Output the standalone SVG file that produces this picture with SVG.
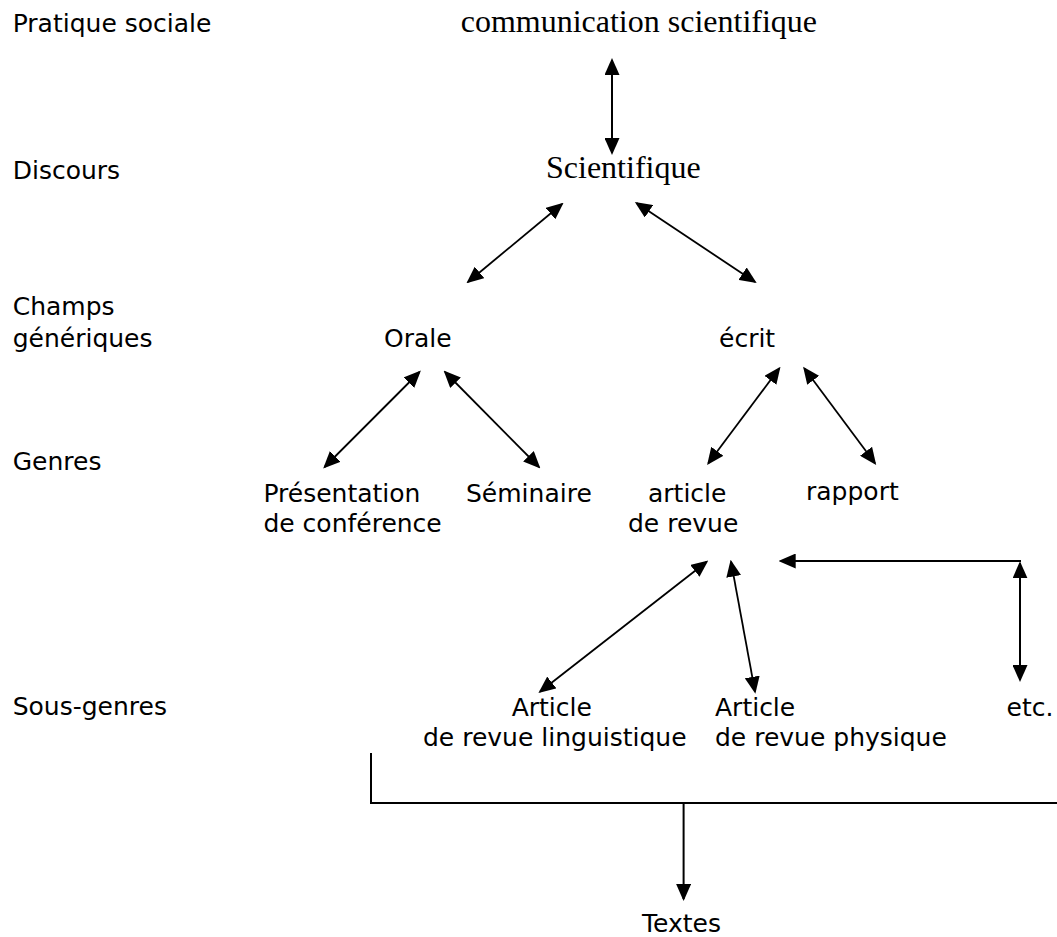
<svg xmlns="http://www.w3.org/2000/svg" width="1057" height="937" viewBox="0 0 1057 937">
  <style>
    .s { font-family: "DejaVu Sans", Verdana, sans-serif; font-size: 25px; fill: #000; }
    .t { font-family: "Liberation Serif", "Times New Roman", serif; font-size: 32px; fill: #000; }
    .c { fill: none; stroke: #000; stroke-width: 1.8; }
    .st { stroke-width: 2; }
    .a2 { marker-start: url(#ah); marker-end: url(#ah); }
    .a1 { marker-end: url(#ah); }
  </style>
  <defs>
    <marker id="ah" markerUnits="userSpaceOnUse" markerWidth="17" markerHeight="15" viewBox="0 0 17 15" refX="15" refY="7.5" orient="auto-start-reverse">
      <path d="M0,0 L17,7.5 L0,15 z" fill="#000"/>
    </marker>
  </defs>
  <rect width="1057" height="937" fill="#fff"/>

  <g id="levels">
    <text class="s" x="12.7" y="32.3">Pratique sociale</text>
    <text class="s" x="12.7" y="179.3">Discours</text>
    <text class="s" x="12.7" y="315">Champs</text>
    <text class="s" x="12.7" y="346.7">génériques</text>
    <text class="s" x="12.7" y="470">Genres</text>
    <text class="s" x="12.7" y="715">Sous-genres</text>
  </g>

  <g id="node-communication"><text class="t" x="460.7" y="32.3">communication scientifique</text></g>
  <g id="node-scientifique"><text class="t" x="546" y="178">Scientifique</text></g>
  <g id="node-orale"><text class="s" x="384" y="347">Orale</text></g>
  <g id="node-ecrit"><text class="s" x="719" y="347">écrit</text></g>
  <g id="node-presentation">
    <text class="s" x="263.4" y="501.7">Présentation</text>
    <text class="s" x="263.4" y="531.7">de conférence</text>
  </g>
  <g id="node-seminaire"><text class="s" x="466" y="501.7">Séminaire</text></g>
  <g id="node-article">
    <text class="s" x="648" y="501.7">article</text>
    <text class="s" x="628" y="531.7">de revue</text>
  </g>
  <g id="node-rapport"><text class="s" x="806" y="500">rapport</text></g>
  <g id="node-article-ling">
    <text class="s" x="511.7" y="716">Article</text>
    <text class="s" x="423" y="746">de revue linguistique</text>
  </g>
  <g id="node-article-phys">
    <text class="s" x="715" y="716">Article</text>
    <text class="s" x="715" y="746">de revue physique</text>
  </g>
  <g id="node-etc"><text class="s" x="1006.5" y="716">etc.</text></g>
  <g id="node-textes"><text class="s" x="642" y="931.7">Textes</text></g>

  <g id="connectors">
    <line class="c st a2" x1="612" y1="60" x2="612" y2="153"/>
    <line class="c a2" x1="562" y1="204" x2="468" y2="282"/>
    <line class="c a2" x1="636.5" y1="203" x2="755" y2="282"/>
    <line class="c a2" x1="419.5" y1="372" x2="324.6" y2="467"/>
    <line class="c a2" x1="445" y1="372" x2="539" y2="467"/>
    <line class="c a2" x1="779.3" y1="368.3" x2="708.3" y2="463.3"/>
    <line class="c a2" x1="804.3" y1="368.3" x2="875" y2="463.3"/>
    <line class="c a2" x1="706.7" y1="561.7" x2="540" y2="691.7"/>
    <line class="c a2" x1="731" y1="561.7" x2="755" y2="691.7"/>
    <line class="c st a1" x1="1021" y1="561" x2="780.7" y2="561"/>
    <line class="c st a2" x1="1020" y1="563.3" x2="1020" y2="680"/>
    <polyline class="c st" points="371,753 371,803 1057,803"/>
    <line class="c st a1" x1="683.6" y1="803" x2="683.6" y2="899"/>
  </g>
</svg>
